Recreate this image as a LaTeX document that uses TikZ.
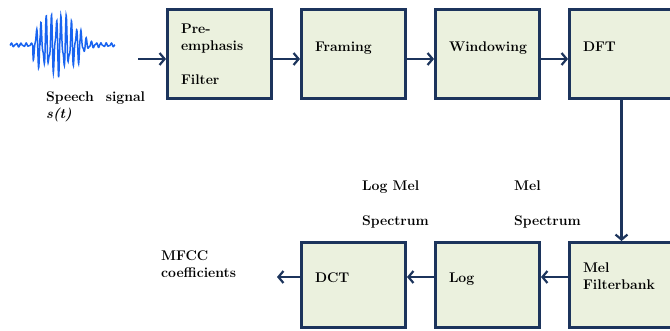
\documentclass[tikz,border=0pt]{standalone}
\usepackage{tikz}
\usetikzlibrary{arrows.meta, positioning}

\definecolor{boxline}{RGB}{28,52,92}
\definecolor{boxfill}{RGB}{235,241,222}
\definecolor{wave}{RGB}{25,100,240}

\begin{document}
\begin{tikzpicture}[x=1pt, y=-1pt, node distance=134pt,
        font=\fontsize{14}{17}\selectfont\bfseries,
        block/.style={draw=boxline, fill=boxfill, line width=3pt, minimum width=104pt,
            minimum height=89pt, text width=77pt, align=left, inner sep=0pt},
        lowblock/.style={block, minimum height=85pt},
        oneline/.style={text height=4pt, text depth=8pt},
        tag/.style={anchor=north west, align=left, inner sep=0pt},
        flow/.style={color=boxline, line width=2.2pt, -{Straight Barb[length=5pt, width=12pt]}},
        declare function={env(\t) = (\t<33) ? 2 : ((\t<82) ? 14+19*sin((\t-30)*3.4) : 2+12*exp(-abs(\t-82)/5));}]
        \path[use as bounding box, clip] (0,0) rectangle (670,331);

        % speech signal
        \draw[wave, line width=1.5pt] plot[domain=10:115, samples=420]
            (\x, {45 - env(\x)*(0.7*sin(\x*72) + 0.3*sin(mod(\x,20)*131))});
        \node[tag] (speech) at (46,92) {Speech\hspace{12pt}signal\\\textit{s(t)}};
        \coordinate (sig) at (138,59);

        % top row
        \node[block] (pre) at (219.5,54) {Pre-\\emphasis\\[17pt]Filter};
        \node[block, oneline] (frame) [right of=pre] {Framing};
        \node[block, oneline] (win) [right of=frame] {Windowing};
        \node[block, oneline] (dft) [right of=win] {DFT};

        % bottom row
        \node[lowblock, text height=4pt, text depth=28pt, node distance=231pt] (mel) [below of=dft] {Mel\\Filterbank};
        \node[lowblock, oneline] (log) [left of=mel] {Log};
        \node[lowblock, oneline] (dct) [left of=log] {DCT};
        \coordinate (out) at (277,277);

        \node[tag] (logmel) at (362,181) {Log Mel\\[18pt]Spectrum};
        \node[tag] (melspec) at (514,181) {Mel\\[18pt]Spectrum};
        \node[tag] (mfcc) at (161,251) {MFCC\\coefficients};

        \path[flow] (sig) edge ([yshift=-5pt]pre.west)
                    ([yshift=-5pt]pre.east) edge ([yshift=-5pt]frame.west)
                    ([yshift=-5pt]frame.east) edge ([yshift=-5pt]win.west)
                    ([yshift=-5pt]win.east) edge ([yshift=-5pt]dft.west)
                    (dft.south) edge (mel.north)
                    ([yshift=8pt]mel.west) edge ([yshift=8pt]log.east)
                    ([yshift=8pt]log.west) edge ([yshift=8pt]dct.east)
                    ([yshift=8pt]dct.west) edge (out);
\end{tikzpicture}
\end{document}
